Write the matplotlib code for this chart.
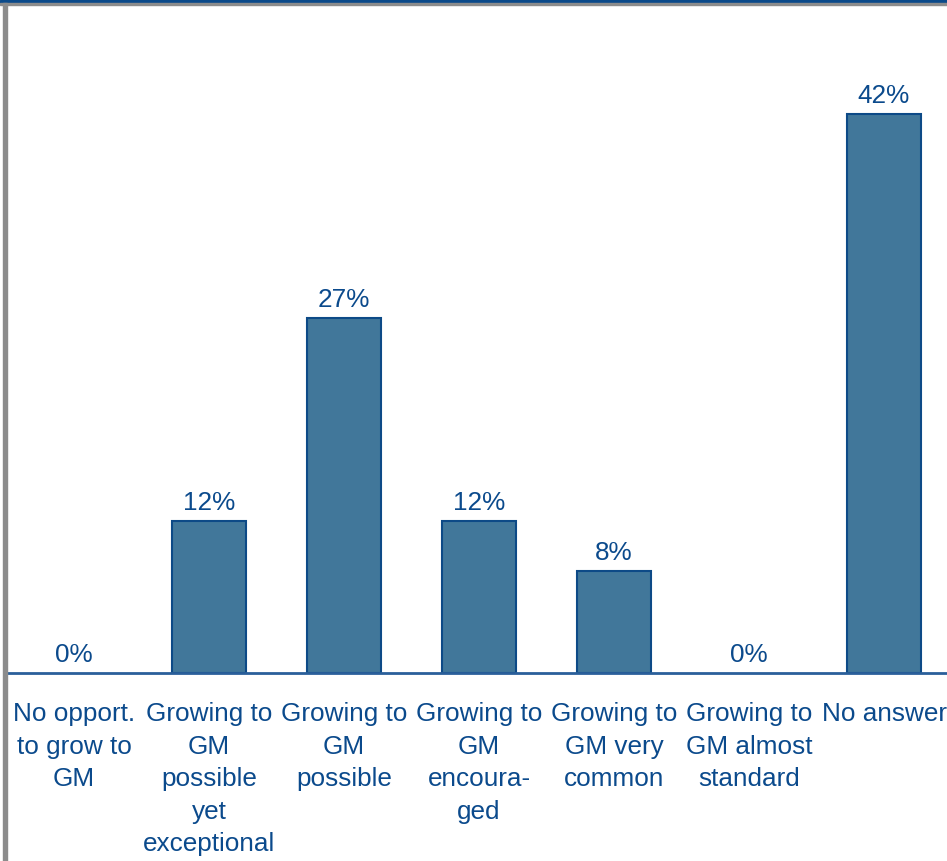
import matplotlib.pyplot as plt
import numpy as np

plt.rcParams['font.family'] = ['Liberation Sans', 'DejaVu Sans']

# share of respondents per answer (n = 26)
categorias = [
    "No opport.\nto grow to\nGM",
    "Growing to\nGM\npossible\nyet\nexceptional",
    "Growing to\nGM\npossible",
    "Growing to\nGM\nencoura-\nged",
    "Growing to\nGM very\ncommon",
    "Growing to\nGM almost\nstandard",
    "No answer",
]
porcentajes = [0.0, 11.5, 26.9, 11.5, 7.7, 0.0, 42.3]

color_barra = '#41779a'
color_borde = '#0d4a87'
color_texto = '#0b4a8c'
tam = 18.8

W, H = 947, 861
fig = plt.figure(figsize=(W / 100, H / 100), dpi=100)

# ejes: la linea base queda en y=673 px, el eje sigue mas alla del borde derecho
x0, x1 = 6.5, 951.5
y_base, y_top = 673, 6
ax = fig.add_axes([x0 / W, (H - y_base) / H, (x1 - x0) / W, (y_base - y_top) / H])

x = np.arange(len(categorias))
# sin borde en las barras de altura cero
bordes = [1.5 if v > 0 else 0 for v in porcentajes]
ax.bar(x, porcentajes, width=0.555, color=color_barra,
       edgecolor=color_borde, linewidth=bordes, zorder=2)

for xi, v in zip(x, porcentajes):
    ax.annotate(f'{v:.0f}%', (xi, v), xytext=(0, 4.2), textcoords='offset points',
                ha='center', va='bottom', fontsize=tam, color=color_texto)

ax.set_xlim(-0.5, len(categorias) - 0.5)
ax.set_ylim(0, 50.5)
ax.set_xticks([])
# etiquetas de categoria como textos, para poder fijar el interlineado
for xi, etiqueta in zip(x, categorias):
    ax.annotate(etiqueta, (xi, 0), xytext=(0, -21), textcoords='offset points',
                ha='center', va='top', multialignment='center', linespacing=1.45,
                fontsize=tam, color=color_texto, annotation_clip=False)
ax.set_yticks([])
for lado in ['top', 'right', 'left']:
    ax.spines[lado].set_visible(False)
ax.spines['bottom'].set_color('#2a5f9a')
ax.spines['bottom'].set_linewidth(2)
ax.spines['bottom'].set_zorder(3)

# marco: franja azul arriba y borde gris a la izquierda
fig.add_artist(plt.Rectangle((0, 1 - 3 / H), 1, 3 / H, transform=fig.transFigure,
                             color='#0b4a8a', zorder=5))
fig.add_artist(plt.Rectangle((0, 1 - 5 / H), 1, 2 / H, transform=fig.transFigure,
                             color='#8c8c8c', zorder=5))
fig.add_artist(plt.Rectangle((3 / W, 0), 3.5 / W, 1 - 3 / H, transform=fig.transFigure,
                             color='#8c8c8c', zorder=5))

fig.savefig('out.png', dpi=100)
